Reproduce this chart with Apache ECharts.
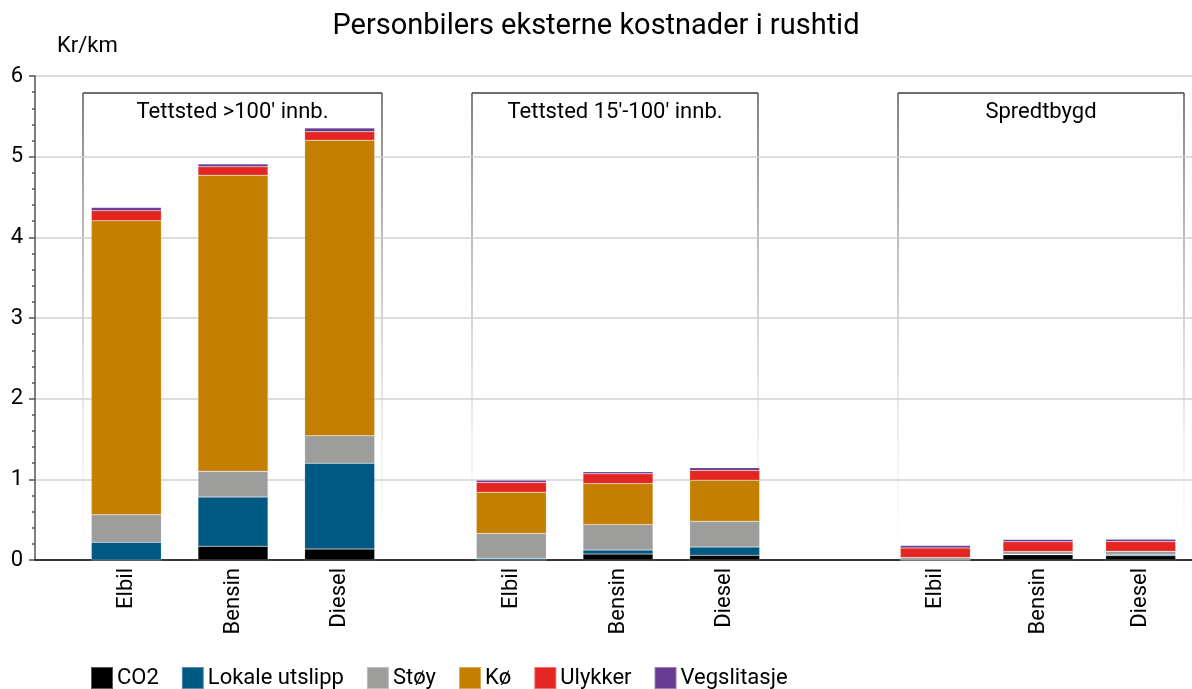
<!DOCTYPE html>
<html>
<head>
<meta charset="utf-8">
<script src="https://cdn.jsdelivr.net/npm/echarts@6/dist/echarts.min.js"></script>
<style>
html,body{margin:0;padding:0;background:#fff;}
#chart{width:1192px;height:689px;}
</style>
</head>
<body>
<div id="chart"></div>
<script>
const categories = ['Elbil', 'Bensin', 'Diesel'];
const groupNames = ["Tettsted >100' innb.", "Tettsted 15'-100' innb.", 'Spredtbygd'];
const seriesNames = ['CO2', 'Lokale utslipp', 'Støy', 'Kø', 'Ulykker', 'Vegslitasje'];
const yTickValues = [0, 1, 2, 3, 4, 5, 6];
// values per group [Tettsted >100', Tettsted 15'-100', Spredtbygd], each [Elbil, Bensin, Diesel]
const co2     = [[0.0, 0.17, 0.135], [0.0, 0.073, 0.06], [0.0, 0.065, 0.053]];
const lokale  = [[0.22, 0.61, 1.065], [0.02, 0.05, 0.10], [0.0, 0.005, 0.015]];
const stoy    = [[0.34, 0.32, 0.34], [0.31, 0.315, 0.32], [0.03, 0.035, 0.04]];
const ko      = [[3.645, 3.67, 3.665], [0.51, 0.51, 0.51], [0.0, 0.0, 0.0]];
const ulykker = [[0.125, 0.105, 0.104], [0.12, 0.12, 0.12], [0.12, 0.12, 0.12]];
const veg     = [[0.04, 0.035, 0.045], [0.03, 0.025, 0.035], [0.03, 0.03, 0.03]];

const seriesValues = [co2, lokale, stoy, ko, ulykker, veg];
const colors = ['#000000', '#005983', '#9d9d9c', '#c47f00', '#e42622', '#673b8f'];
const FONT = 'Roboto';

const chart = echarts.init(document.getElementById('chart'));

const plotTop = 76, plotHeight = 484;
const groupGrids = [
  {left: 73, width: 320},
  {left: 458, width: 320},
  {left: 884, width: 320}
];
const boxes = [
  {x1: 83, x2: 382},
  {x1: 472, x2: 758},
  {x1: 898, x2: 1184}
];
const boxTop = 93, boxBottom = 560;

const grids = [{left: 35, top: plotTop, width: 1157, height: plotHeight}];
groupGrids.forEach(g => grids.push({left: g.left, top: plotTop, width: g.width, height: plotHeight}));

const xAxes = [{
  gridIndex: 0, type: 'category', data: [''],
  axisLine: {show: true, lineStyle: {color: '#000', width: 1.5}},
  axisTick: {show: false}, axisLabel: {show: false}
}];
const yAxes = [{
  gridIndex: 0, type: 'value', min: yTickValues[0], max: yTickValues[yTickValues.length - 1], interval: 1,
  axisLine: {show: true, lineStyle: {color: '#555', width: 1.5}},
  axisTick: {show: true, inside: false, length: 6, lineStyle: {color: '#555', width: 1.5}},
  minorTick: {show: true, splitNumber: 5, length: 3, lineStyle: {color: '#555', width: 1.5}},
  splitLine: {show: true, lineStyle: {color: '#d0d0d0', width: 1.5}},
  axisLabel: {fontFamily: FONT, fontSize: 22, color: '#000', margin: 12}
}];
groupGrids.forEach((g, i) => {
  xAxes.push({
    gridIndex: i + 1, type: 'category', data: categories,
    axisLine: {show: false}, axisTick: {show: false},
    axisLabel: {rotate: 90, fontFamily: FONT, fontSize: 22, color: '#000', margin: 8}
  });
  yAxes.push({
    gridIndex: i + 1, type: 'value', min: yTickValues[0], max: yTickValues[yTickValues.length - 1],
    show: false, splitLine: {show: false}
  });
});

const series = [];
groupGrids.forEach((g, gi) => {
  seriesNames.forEach((name, si) => {
    series.push({
      name: name, type: 'bar', stack: 'g' + gi,
      xAxisIndex: gi + 1, yAxisIndex: gi + 1,
      barWidth: 70,
      itemStyle: {color: colors[si], borderColor: 'rgba(255,255,255,0.35)', borderWidth: 0.5},
      emphasis: {disabled: true},
      data: seriesValues[si][gi]
    });
  });
});

const graphics = [];
boxes.forEach((b, i) => {
  const grad = new echarts.graphic.LinearGradient(0, boxTop, 0, boxBottom, [
    {offset: 0, color: 'rgba(60,60,60,1)'},
    {offset: 0.35, color: 'rgba(120,120,120,0.7)'},
    {offset: 1, color: 'rgba(200,200,200,0)'}
  ], true);
  graphics.push({type: 'line', shape: {x1: b.x1, y1: boxTop, x2: b.x2, y2: boxTop}, style: {stroke: '#404040', lineWidth: 1.3}, z: 0});
  graphics.push({type: 'line', shape: {x1: b.x1, y1: boxTop, x2: b.x1, y2: boxBottom}, style: {stroke: grad, lineWidth: 1.3}, z: 0});
  graphics.push({type: 'line', shape: {x1: b.x2, y1: boxTop, x2: b.x2, y2: boxBottom}, style: {stroke: grad, lineWidth: 1.3}, z: 0});
  graphics.push({type: 'text', x: (b.x1 + b.x2) / 2, y: 112, style: {text: groupNames[i], fill: '#000', font: '22px ' + FONT, textAlign: 'center', textVerticalAlign: 'middle'}, z: 5});
});
graphics.push({type: 'text', x: 57, y: 46, style: {text: 'Kr/km', fill: '#000', font: '22px ' + FONT, textAlign: 'left', textVerticalAlign: 'middle'}});

chart.setOption({
  animation: false,
  backgroundColor: '#fff',
  title: {
    text: 'Personbilers eksterne kostnader i rushtid', left: 'center', top: 12, padding: 0,
    textStyle: {fontFamily: FONT, fontSize: 29, fontWeight: 'normal', color: '#000'}
  },
  legend: {
    data: seriesNames, left: 90, top: 666, padding: 0, icon: 'rect', itemWidth: 22, itemHeight: 22, itemGap: 22,
    textStyle: {fontFamily: FONT, fontSize: 22, lineHeight: 22, color: '#000', padding: [0, 0, 0, -1]}
  },
  grid: grids,
  xAxis: xAxes,
  yAxis: yAxes,
  series: series,
  graphic: graphics
});
</script>
</body>
</html>
